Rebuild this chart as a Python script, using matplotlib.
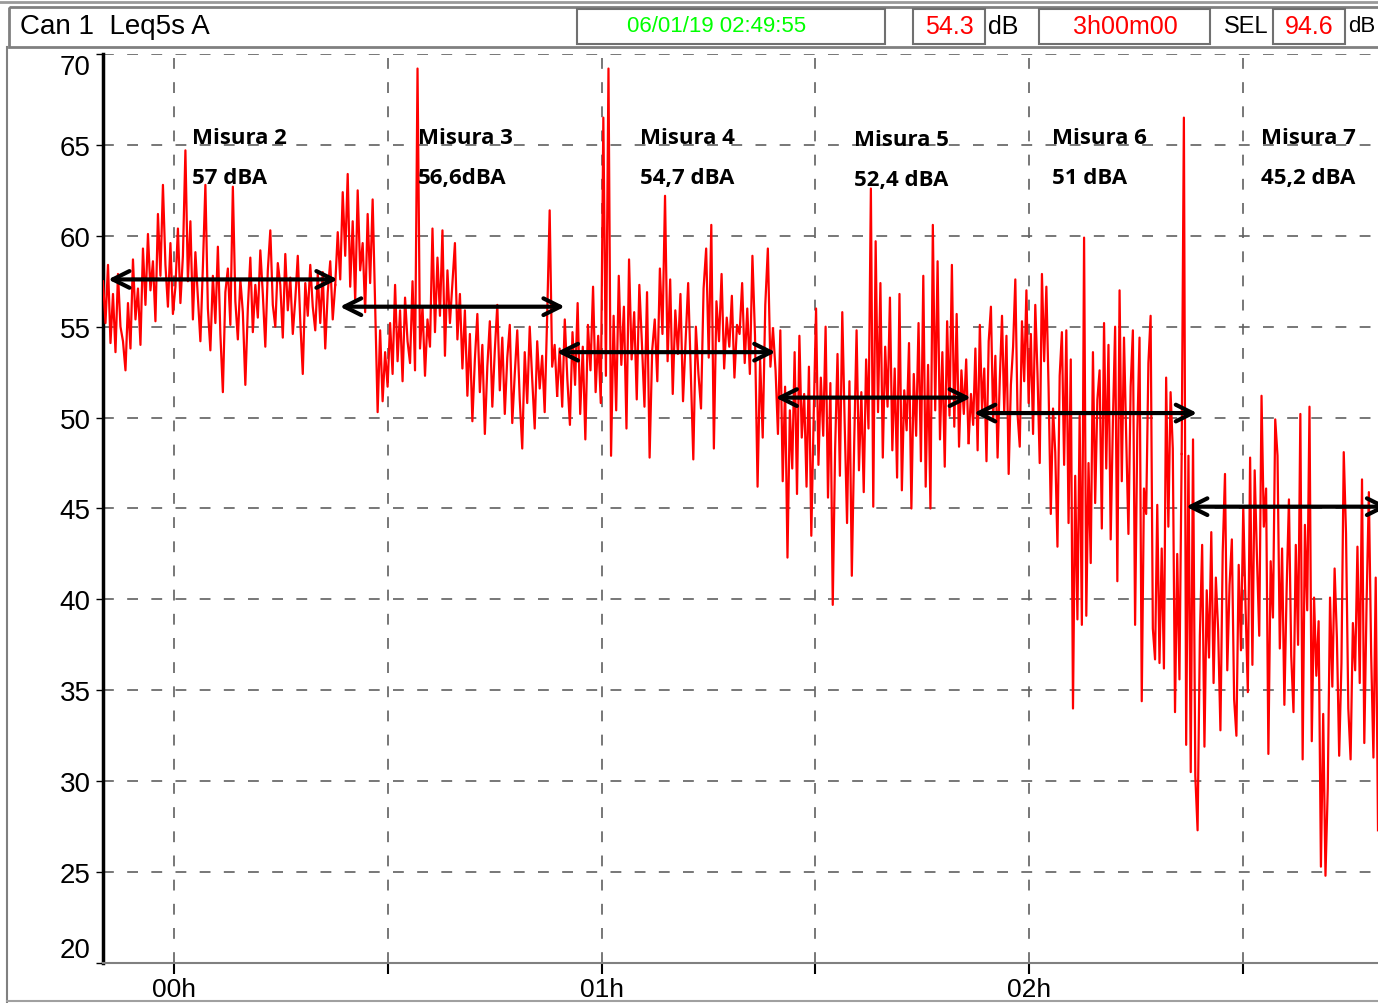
import numpy as np
import matplotlib
matplotlib.use("Agg")
import matplotlib.pyplot as plt
from matplotlib.patches import Rectangle

plt.rcParams['font.family'] = ['Liberation Sans Narrow', 'Liberation Sans', 'DejaVu Sans']

misura2 = [57.5, 55.2, 58.4, 54.1, 56.8, 53.6, 57.9, 55.0, 54.2, 52.6, 56.3, 53.8, 58.7, 55.4, 57.1, 54.0,
           59.3, 56.2, 60.1, 57.0, 58.6, 55.3, 61.2, 57.8, 62.8, 58.4, 56.1, 59.6, 55.7, 57.2, 60.4, 56.3,
           58.9, 64.7, 57.5, 60.8, 55.4, 59.1, 56.6, 54.2, 58.3, 62.8, 56.0, 53.7, 57.8, 55.2, 59.4, 54.6,
           51.4, 56.9, 58.2, 55.1, 62.7, 56.4, 54.3, 57.6, 55.8, 51.8, 56.0, 58.8, 54.7, 57.3, 55.5, 59.2,
           56.8, 53.9, 58.1, 60.3, 56.2, 55.0, 58.5, 57.3, 54.4, 59.0, 55.9, 57.7, 54.6, 56.5, 58.9, 55.3,
           52.4, 57.4, 55.6, 58.4, 56.1, 54.8, 57.9, 55.2, 58.0, 53.8, 56.9, 58.6, 55.4, 57.3]
misura3 = [60.2, 57.6, 62.4, 58.9, 63.4, 57.2, 60.8, 56.4, 62.5, 58.1, 59.6, 55.8, 61.2, 57.4, 62.0, 56.2,
           50.3, 54.8, 50.9, 53.6, 51.7, 55.2, 52.4, 57.3, 53.1, 55.9, 52.0, 56.6, 54.2, 53.0, 57.5, 52.6,
           69.2, 53.8, 56.1, 52.3, 55.4, 53.9, 60.4, 54.7, 58.8, 55.6, 60.3, 53.4, 58.1, 55.2, 57.4, 59.6,
           54.3, 56.8, 52.7, 55.9, 51.2, 54.6, 49.8, 53.2, 55.7, 51.4, 54.0, 49.1, 52.8, 55.3, 50.6, 53.7,
           56.2, 51.5, 54.4, 50.2, 53.3, 55.1, 49.7, 52.4, 54.8, 51.0, 48.3, 53.6, 50.8, 55.0, 52.1, 49.4,
           54.2, 51.6, 53.4, 50.3, 55.6, 61.4, 52.8, 54.0, 51.2]
misura4 = [53.8, 50.6, 55.4, 52.1, 49.6, 54.7, 51.8, 56.3, 50.2, 53.9, 48.8, 55.1, 52.6, 57.2, 51.4, 54.5,
           50.8, 66.5, 52.3, 69.2, 47.9, 55.6, 50.4, 57.8, 52.9, 56.1, 49.4, 58.7, 53.2, 55.8, 51.0, 57.3,
           54.1, 50.6, 56.9, 47.8, 53.7, 55.4, 52.0, 58.2, 54.6, 62.2, 53.1, 57.6, 51.3, 55.9, 53.5, 56.8,
           50.9, 54.2, 57.4, 52.6, 47.7, 55.0, 52.4, 50.5, 57.1, 59.3, 53.3, 60.6, 48.3, 56.4, 54.2, 57.9,
           52.7, 55.5, 53.9, 56.7, 52.2, 55.1, 54.6, 57.4, 53.0, 56.0, 52.4, 58.9, 54.5, 46.2, 53.2, 48.9,
           56.2, 59.3, 52.8, 54.9]
misura5 = [52.6, 49.1, 54.8, 46.5, 51.7, 42.3, 50.4, 47.2, 53.6, 45.8, 54.5, 48.9, 51.3, 46.2, 52.8, 43.5,
           50.1, 56.0, 47.4, 52.2, 49.0, 55.0, 45.6, 51.9, 39.7, 48.3, 53.5, 46.8, 55.8, 49.7, 44.2, 52.0,
           41.3, 48.6, 54.8, 47.1, 51.4, 45.9, 53.2, 49.4, 62.6, 45.1, 59.7, 50.3, 57.4, 47.8, 53.9, 50.6,
           56.6, 48.2, 52.7, 46.7, 56.8, 46.0, 51.5, 49.3, 54.1, 45.0, 52.4, 49.0, 55.2, 47.6, 57.8, 46.2,
           52.9, 45.0, 60.6, 50.4, 58.6, 48.8, 53.6, 47.3, 55.3, 50.1, 58.4, 49.5, 55.7, 48.4, 52.6, 50.2,
           53.2, 48.6]
misura6 = [51.3, 49.6, 53.8, 48.2, 55.1, 50.4, 52.7, 47.6, 54.2, 56.1, 49.8, 53.4, 47.8, 52.1, 55.6, 50.3,
           54.5, 46.9, 51.8, 53.9, 57.6, 50.2, 48.4, 55.3, 52.0, 57.0, 50.8, 54.6, 49.1, 56.2, 52.4, 47.5,
           57.9, 53.1, 57.2, 51.6, 44.7, 50.5, 48.1, 42.9, 52.3, 54.7, 47.4, 54.8, 44.2, 53.2, 34.0, 46.8,
           38.9, 50.1, 38.6, 59.9, 39.1, 47.5, 42.0, 53.6, 45.3, 51.0, 52.6, 43.9, 55.2, 47.2, 54.0, 43.3,
           49.8, 55.0, 41.0, 57.0, 46.5, 54.4, 48.9, 43.6, 51.7, 54.8, 38.6, 49.2, 54.4, 34.4, 46.1, 44.7,
           53.0, 55.6, 38.4, 36.7, 45.2, 36.5, 42.8, 36.2, 52.2, 44.0, 51.4, 48.3, 33.8, 42.5, 35.6, 48.0]
misura7 = [66.5, 32.0, 47.9, 30.5, 48.8, 30.3, 27.3, 38.0, 43.0, 31.9, 40.5, 36.8, 43.7, 35.4, 41.2, 38.3,
           32.8, 42.6, 46.9, 36.1, 40.8, 43.3, 34.5, 32.5, 41.9, 37.2, 45.1, 39.6, 34.9, 47.8, 36.4, 47.1,
           42.3, 38.0, 51.2, 44.0, 46.1, 31.5, 42.1, 39.0, 49.9, 47.9, 37.3, 42.8, 34.2, 40.6, 45.5, 36.9,
           33.8, 43.0, 37.5, 50.2, 31.2, 44.1, 39.4, 50.6, 32.2, 40.1, 35.8, 38.8, 25.3, 33.7, 24.8, 29.6,
           40.1, 35.2, 41.7, 37.9, 31.4, 36.5, 48.1, 43.6, 34.0, 31.2, 38.7, 36.1, 42.9, 35.4, 46.6, 32.1,
           39.8, 45.9, 37.0, 31.3, 41.2, 27.3]
segments = [misura2, misura3, misura4, misura5, misura6, misura7]
# period boundaries in hours from 00h
seg_bounds = [-0.166, 0.383, 0.902, 1.407, 1.864, 2.362, 2.816]

# annotations
labels = ["Misura 2", "Misura 3", "Misura 4", "Misura 5", "Misura 6", "Misura 7"]
leq_text = ["57 dBA", "56,6dBA", "54,7 dBA", "52,4 dBA", "51 dBA", "45,2 dBA"]
label_x = [0.042, 0.570, 1.091, 1.591, 2.054, 2.542]
label_y = [65.4, 65.4, 65.4, 65.3, 65.4, 65.4]
value_y = [63.2, 63.2, 63.2, 63.1, 63.2, 63.2]
arrow_start = [-0.154, 0.388, 0.895, 1.407, 1.871, 2.367]
arrow_end = [0.383, 0.914, 1.407, 1.864, 2.393, 2.84]
arrow_level = [57.6, 56.1, 53.6, 51.1, 50.25, 45.1]

W, H = 1378, 1004
fig = plt.figure(figsize=(W / 100, H / 100), dpi=100)

# header / frame drawn in pixel coordinates
over = fig.add_axes([0, 0, 1, 1])
over.set_xlim(0, W)
over.set_ylim(H, 0)
over.axis('off')
over.add_patch(Rectangle((9, 8), W, 40, fill=False, ec='#808080', lw=2))
over.plot([0, W], [3, 3], color='#9a9a9a', lw=2)
over.plot([7, 7], [48, H], color='#808080', lw=1.5)
over.plot([7, W], [1002, 1002], color='#a0a0a0', lw=1.5)
for x0, x1 in [(577, 885), (913, 985), (1039, 1210), (1273, 1345)]:
    over.add_patch(Rectangle((x0, 10), x1 - x0, 35, fill=False, ec='#707070', lw=1.5))
over.text(20, 27, "Can 1  Leq5s A", fontsize=20, va='center', ha='left')
over.text(717, 27, "06/01/19 02:49:55", fontsize=16, color='#00ff00', va='center', ha='center')
over.text(949, 27, "54.3", fontsize=18, color='red', va='center', ha='center')
over.text(988, 27, "dB", fontsize=18, va='center', ha='left')
over.text(1125, 27, "3h00m00", fontsize=18, color='red', va='center', ha='center')
over.text(1224, 27, "SEL", fontsize=17, va='center', ha='left')
over.text(1309, 27, "94.6", fontsize=18, color='red', va='center', ha='center')
over.text(1348, 27, "dB", fontsize=16, va='center', ha='left')

ax = fig.add_axes([103 / W, (H - 964) / H, (W - 103) / W, 909 / H])
ax.patch.set_alpha(0)

for i, seg in enumerate(segments):
    t = np.linspace(seg_bounds[i], seg_bounds[i + 1], len(seg), endpoint=(i == len(segments) - 1))
    if i > 0:
        t = np.concatenate([[t_prev], t])
        seg = [v_prev] + seg
    ax.plot(t, seg, color='#ff0000', lw=1.6, zorder=3)
    t_prev, v_prev = t[-1], seg[-1]

for a0, a1, lvl in zip(arrow_start, arrow_end, arrow_level):
    ax.annotate('', xy=(a1, lvl), xytext=(a0, lvl), annotation_clip=False,
                arrowprops=dict(arrowstyle='<->,head_length=1.2,head_width=0.6',
                                lw=3, color='black', shrinkA=0, shrinkB=0), zorder=5)

for lab, val, x, ly, vy in zip(labels, leq_text, label_x, label_y, value_y):
    ax.text(x, ly, lab, fontsize=16, fontweight='bold', family=['Open Sans', 'DejaVu Sans'],
            va='center', ha='left', zorder=6)
    ax.text(x, vy, val, fontsize=16, fontweight='bold', family=['Open Sans', 'DejaVu Sans'],
            va='center', ha='left', zorder=6)

ax.set_xlim(-0.166, 2.816)
ax.set_ylim(20, 70)
ax.set_yticks(np.arange(20, 71, 5))
ax.set_xticks([0, 1, 2])
ax.set_xticklabels(["00h", "01h", "02h"])
ax.set_xticks([0.5, 1.5, 2.5], minor=True)
ax.grid(True, which='both', color='#606060', lw=1.2, linestyle=(0, (6.5, 8)), zorder=1)
ax.tick_params(axis='y', direction='out', length=5, width=1, labelsize=20, pad=4)
ax.tick_params(axis='x', which='both', direction='out', length=8, width=1.5, labelsize=19, pad=2)
ylabs = ax.get_yticklabels()
ylabs[0].set_va('bottom')
ylabs[-1].set_va('top')

ax.spines['top'].set_visible(False)
ax.spines['right'].set_visible(False)
ax.spines['left'].set_linewidth(2.5)
ax.spines['left'].set_color('black')
ax.spines['bottom'].set_color('#808080')
ax.spines['bottom'].set_linewidth(1.5)

fig.savefig("out.png", dpi=100)
